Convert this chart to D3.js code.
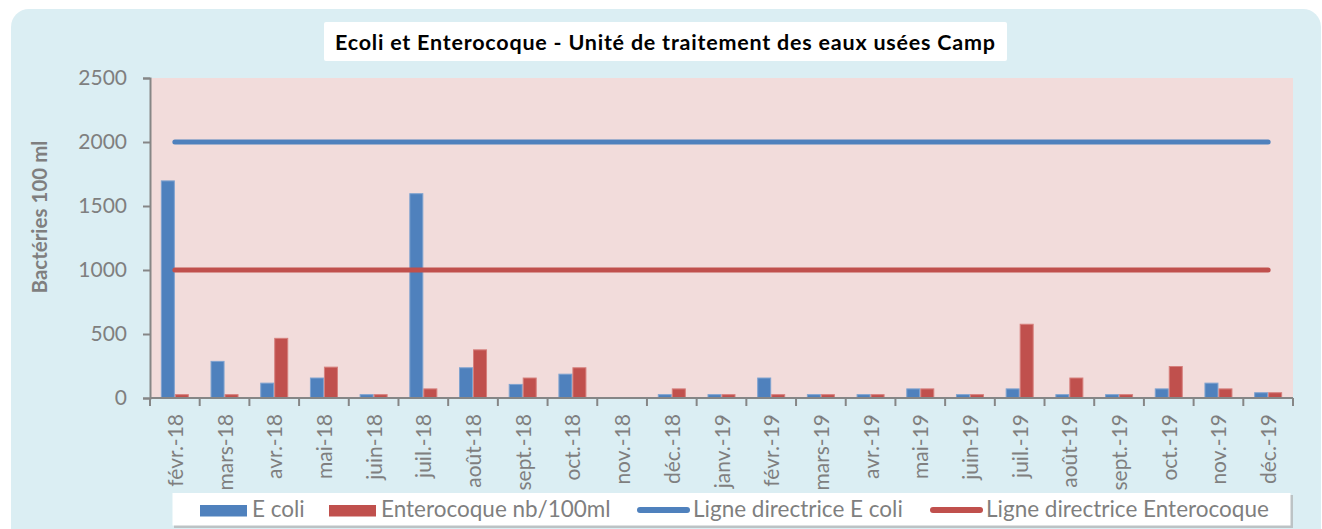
<!DOCTYPE html>
<html>
<head>
<meta charset="utf-8">
<script src="https://cdn.jsdelivr.net/npm/d3@7"></script>
<style>
  html, body { margin: 0; padding: 0; background: #ffffff; }
  svg { display: block; }
  text { font-family: Lato, "Open Sans", sans-serif; }
</style>
</head>
<body>
<svg id="chart" width="1322" height="529"></svg>
<script>
// ---- Data ----
const categories = ["févr.-18","mars-18","avr.-18","mai-18","juin-18","juil.-18","août-18","sept.-18","oct.-18","nov.-18","déc.-18","janv.-19","févr.-19","mars-19","avr.-19","mai-19","juin-19","juil.-19","août-19","sept.-19","oct.-19","nov.-19","déc.-19"];
const ecoli =       [1700, 290, 120, 160, 30, 1600, 240, 110, 190, null, 30, 30, 160, 30, 30, 75, 30, 75, 30, 30, 75, 120, 45];
const enterocoque = [30, 30, 470, 245, 30, 75, 380, 160, 240, null, 75, 30, 30, 30, 30, 75, 30, 580, 160, 30, 250, 75, 45];
const guideEcoli = categories.map(() => 2000);
const guideEntero = categories.map(() => 1000);
const yTicks = [0, 500, 1000, 1500, 2000, 2500];
const seriesNames = ["E coli", "Enterocoque nb/100ml", "Ligne directrice E coli", "Ligne directrice Enterocoque"];
const title = "Ecoli et Enterocoque - Unité de traitement des eaux usées Camp";
const yLabel = "Bactéries 100 ml";

// ---- Style ----
const BLUE = "#4F81BD", RED = "#C0504D", GRAY = "#7F7F7F", AXIS = "#868686";

const svg = d3.select("#chart");

// Outer panel
svg.append("rect").attr("x", 11).attr("y", 9).attr("width", 1310).attr("height", 560)
  .attr("rx", 18).attr("fill", "#DBEEF3");

// Title box
svg.append("rect").attr("x", 324).attr("y", 22).attr("width", 683).attr("height", 39)
  .attr("rx", 2).attr("fill", "#ffffff");
svg.append("text").attr("x", 665).attr("y", 50).attr("text-anchor", "middle")
  .attr("font-size", 21.5).attr("font-weight", "bold").attr("fill", "#000")
  .attr("textLength", 660).attr("lengthAdjust", "spacing")
  .text(title);

// Plot area
const plot = { left: 150, right: 1293, top: 78, bottom: 398 };
svg.append("rect").attr("x", plot.left).attr("y", plot.top)
  .attr("width", plot.right - plot.left).attr("height", plot.bottom - plot.top)
  .attr("fill", "#F2DCDB");

const x0 = d3.scaleBand().domain(categories).range([plot.left, plot.right]).padding(0);
const x1 = d3.scaleBand().domain(["ecoli", "entero"]).range([0, x0.bandwidth()])
  .paddingInner(0).paddingOuter(0.775);
const y = d3.scaleLinear().domain([0, 2500]).range([plot.bottom, plot.top]);

// Bars
const bars = [
  { key: "ecoli", values: ecoli, color: BLUE, edge: "#7FA3D0" },
  { key: "entero", values: enterocoque, color: RED, edge: "#D67F7C" }
];
bars.forEach(s => {
  svg.append("g").selectAll("rect")
    .data(categories.map((c, i) => ({ c, v: s.values[i] })).filter(d => d.v != null))
    .join("rect")
    .attr("x", d => x0(d.c) + x1(s.key) + 0.5)
    .attr("y", d => y(d.v) + 0.5)
    .attr("width", x1.bandwidth() - 1)
    .attr("height", d => y(0) - y(d.v) - 0.5)
    .attr("fill", s.color)
    .attr("stroke", s.edge).attr("stroke-width", 1);
});

// Guide lines
const line = d3.line().x(d => x0(d.c) + x0.bandwidth() / 2).y(d => y(d.v));
[[guideEcoli, BLUE], [guideEntero, RED]].forEach(([vals, col]) => {
  svg.append("path")
    .datum(categories.map((c, i) => ({ c, v: vals[i] })))
    .attr("d", line).attr("fill", "none").attr("stroke", col)
    .attr("stroke-width", 5).attr("stroke-linecap", "round");
});

// Y axis
const yAxis = svg.append("g").attr("transform", `translate(${plot.left},0)`)
  .call(d3.axisLeft(y).tickValues(yTicks).tickSize(7).tickPadding(16).tickFormat(d3.format("d")));
yAxis.select(".domain").attr("stroke", AXIS).attr("stroke-width", 2);
yAxis.selectAll(".tick line").attr("stroke", AXIS).attr("stroke-width", 2);
yAxis.selectAll(".tick text").attr("fill", GRAY).attr("font-size", 21)
  .attr("font-family", "Lato, sans-serif");

// Y label
svg.append("text").attr("transform", "translate(47,217) rotate(-90)")
  .attr("text-anchor", "middle").attr("font-size", 20.5).attr("font-weight", "bold")
  .attr("fill", GRAY).text(yLabel);

// X axis
const xg = svg.append("g").attr("transform", `translate(0,${plot.bottom})`);
xg.append("line").attr("x1", plot.left).attr("x2", plot.right).attr("y1", 0).attr("y2", 0)
  .attr("stroke", AXIS).attr("stroke-width", 2);
const boundaries = categories.map(c => x0(c)).concat([x0.range()[1]]);
xg.selectAll("line.tk").data(boundaries).join("line").attr("class", "tk")
  .attr("x1", d => d).attr("x2", d => d).attr("y1", 0).attr("y2", 8)
  .attr("stroke", AXIS).attr("stroke-width", 2);
xg.selectAll("text").data(categories).join("text")
  .attr("transform", d => `translate(${x0(d) + x0.bandwidth() / 2 + 8},16) rotate(-90)`)
  .attr("text-anchor", "end").attr("font-size", 21).attr("fill", GRAY)
  .text(d => d);

// Legend
const lg = svg.append("g");
lg.append("rect").attr("x", 174).attr("y", 495).attr("width", 1119).attr("height", 33)
  .attr("fill", "#A6A6A6").attr("opacity", 0.6);
lg.append("rect").attr("x", 172.5).attr("y", 493).attr("width", 1118).attr("height", 32.5)
  .attr("fill", "#ffffff");
const legendX = [200, 329, 637, 930];
const legendKinds = ["bar", "bar", "line", "line"];
const legendColors = [BLUE, RED, BLUE, RED];
seriesNames.forEach((name, i) => {
  const gx = legendX[i];
  if (legendKinds[i] === "bar") {
    lg.append("rect").attr("x", gx).attr("y", 505).attr("width", 47).attr("height", 11.5)
      .attr("fill", legendColors[i]);
    lg.append("text").attr("x", gx + 52).attr("y", 517).attr("font-size", 22.5)
      .attr("fill", GRAY).text(name);
  } else {
    lg.append("line").attr("x1", gx + 3).attr("x2", gx + 50).attr("y1", 510).attr("y2", 510)
      .attr("stroke", legendColors[i]).attr("stroke-width", 6).attr("stroke-linecap", "round");
    lg.append("text").attr("x", gx + 56).attr("y", 517).attr("font-size", 22.5)
      .attr("fill", GRAY).text(name);
  }
});
</script>
</body>
</html>
